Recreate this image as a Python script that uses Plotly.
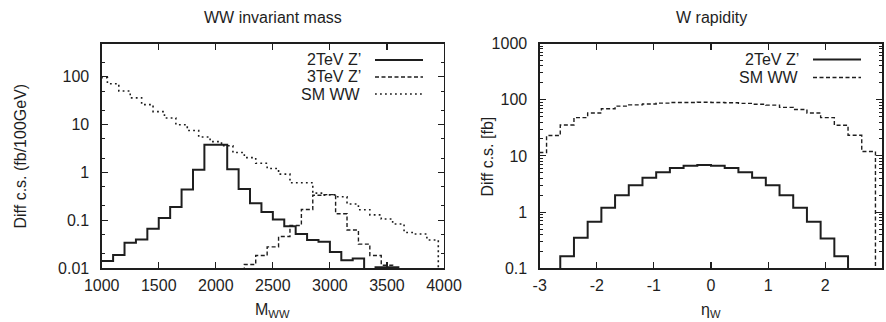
import plotly.graph_objects as go

# ---------------- data ----------------
FLOOR = 1e-4  # empty bin (below the visible log range)

# Left panel: WW invariant mass, bin centres [GeV] and diff. cross sections [fb/100GeV]
mww_2tev_centers = [1050, 1150, 1250, 1350, 1450, 1550, 1650, 1750, 1850, 1950,
                    2050, 2150, 2250, 2350, 2450, 2550, 2650, 2750, 2850, 2950,
                    3050, 3150, 3250, 3350, 3450, 3550, 3650]
mww_2tev_values = [0.0142, 0.019, 0.034, 0.040, 0.067, 0.112, 0.19, 0.44, 1.14, 3.8,
                   3.8, 1.17, 0.45, 0.228, 0.150, 0.104, 0.075, 0.052, 0.039, 0.036,
                   0.022, 0.0147, 0.016, FLOOR, 0.0105, 0.0105, FLOOR]

mww_3tev_centers = [2200, 2300, 2400, 2500, 2600, 2700, 2800, 2900, 3000, 3100,
                    3200, 3300, 3400, 3500, 3600]
mww_3tev_values = [FLOOR, 0.012, 0.0185, 0.028, 0.046, 0.078, 0.168, 0.335, 0.345, 0.137,
                   0.063, 0.032, 0.0185, 0.0116, FLOOR]

mww_sm_centers = [1000, 1100, 1200, 1300, 1400, 1500, 1600, 1700, 1800, 1900,
                  2000, 2100, 2200, 2300, 2400, 2500, 2600, 2700, 2800, 2900,
                  3000, 3100, 3200, 3300, 3400, 3500, 3600, 3700, 3800, 3900, 4000]
mww_sm_values = [95, 71, 50, 36, 26, 18.6, 13.7, 9.9, 7.5, 5.5,
                 4.4, 3.6, 2.6, 2.04, 1.55, 1.21, 0.92, 0.61, 0.61, 0.37,
                 0.34, 0.31, 0.22, 0.167, 0.13, 0.107, 0.084, 0.056, 0.052, 0.039, FLOOR]

# Right panel: W rapidity, bin centres and diff. cross sections [fb]
eta_centers = [-3.0, -2.76, -2.52, -2.28, -2.04, -1.80, -1.56, -1.32, -1.08, -0.84,
               -0.60, -0.36, -0.12, 0.12, 0.36, 0.60, 0.84, 1.08, 1.32, 1.56,
               1.80, 2.04, 2.28, 2.52, 2.76, 3.0]
eta_2tev_values = [FLOOR, FLOOR, 0.164, 0.35, 0.67, 1.2, 2.0, 3.0, 4.1, 5.1,
                   6.1, 6.7, 6.9, 6.7, 6.1, 5.1, 4.1, 3.0, 2.0, 1.2,
                   0.67, 0.34, 0.164, FLOOR, FLOOR, FLOOR]
eta_sm_values = [11.5, 23, 35.5, 48, 58, 69, 77, 81, 84, 87,
                 89, 89, 90, 89, 88, 86, 83, 80, 73, 67,
                 58, 48, 35, 23.3, 12, FLOOR]

mww_ticks = [1000, 1500, 2000, 2500, 3000, 3500, 4000]
mww_labels = ["1000", "1500", "2000", "2500", "3000", "3500", "4000"]
left_y_ticks = [0.01, 0.1, 1, 10, 100]
left_y_labels = ["0.01", "0.1", "1", "10", "100"]
eta_ticks = [-3, -2, -1, 0, 1, 2, 3]
eta_labels = ["-3", "-2", "-1", "0", "1", "2", "3"]
right_y_ticks = [0.1, 1, 10, 100, 1000]
right_y_labels = ["0.1", "1", "10", "100", "1000"]

# ---------------- helpers ----------------
def histeps(centers, values):
    half = (centers[1] - centers[0]) / 2.0
    edges = [centers[0] - half] + [(a + b) / 2.0 for a, b in zip(centers[:-1], centers[1:])] + [centers[-1] + half]
    return edges, list(values) + [values[-1]]

INK = "#1e1e1e"
FONT = "Liberation Sans, Arial, Helvetica, sans-serif"
FS = 16
W, H = 886, 322

solid = dict(color=INK, width=2.0)
dashed = dict(color=INK, width=1.4, dash="4px,2.5px")
dotted = dict(color=INK, width=1.6, dash="1.8px,3.2px")

fig = go.Figure()

def add_hist(centers, values, line, name, xa, ya):
    x, y = histeps(centers, values)
    fig.add_trace(go.Scatter(x=x, y=y, mode="lines", line_shape="hv", line=line,
                             name=name, showlegend=False, xaxis=xa, yaxis=ya,
                             hoverinfo="skip"))

add_hist(mww_sm_centers, mww_sm_values, dotted, "SM WW", "x", "y")
add_hist(mww_3tev_centers, mww_3tev_values, dashed, "3TeV Z'", "x", "y")
add_hist(mww_2tev_centers, mww_2tev_values, solid, "2TeV Z'", "x", "y")
add_hist(eta_centers, eta_sm_values, dashed, "SM WW", "x2", "y2")
add_hist(eta_centers, eta_2tev_values, solid, "2TeV Z'", "x2", "y2")

# plot-area geometry (pixels)
L1, R1 = 101.7, 444.0
L2, R2 = 539.7, 882.3
TOP, BOT = 43.5, 268.3
xd1 = [L1 / W, R1 / W]
xd2 = [L2 / W, R2 / W]
yd = [(H - BOT) / H, (H - TOP) / H]

common_x = dict(showline=True, linecolor=INK, linewidth=1.3, mirror="allticks",
                ticks="inside", ticklen=6, tickwidth=1.1, tickcolor=INK,
                showgrid=False, zeroline=False, automargin=False,
                tickfont=dict(family=FONT, size=FS, color=INK),
                ticklabelstandoff=2)
common_y = dict(type="log", showline=True, linecolor=INK, linewidth=1.3, mirror="allticks",
                ticks="inside", ticklen=6, tickwidth=1.1, tickcolor=INK,
                showgrid=False, zeroline=False, automargin=False,
                tickfont=dict(family=FONT, size=FS, color=INK),
                ticklabelstandoff=8)

fig.update_layout(
    width=W, height=H, margin=dict(l=0, r=0, t=0, b=0, autoexpand=False),
    paper_bgcolor="white", plot_bgcolor="white", showlegend=False,
    xaxis=dict(domain=xd1, range=[1000, 4000], tickvals=mww_ticks, ticktext=mww_labels,
               anchor="y", **common_x),
    yaxis=dict(domain=yd, range=[-2, 2.69], tickvals=left_y_ticks, ticktext=left_y_labels,
               anchor="x",
               minor=dict(ticks="inside", ticklen=3, tickwidth=1, tickcolor=INK, dtick="D2"),
               **common_y),
    xaxis2=dict(domain=xd2, range=[-3, 3], tickvals=eta_ticks, ticktext=eta_labels,
                anchor="y2", **common_x),
    yaxis2=dict(domain=yd, range=[-1, 3], tickvals=right_y_ticks, ticktext=right_y_labels,
                anchor="x2",
                minor=dict(ticks="inside", ticklen=3, tickwidth=1, tickcolor=INK, dtick="D1"),
                **common_y),
)

ann = []
def text(x, y, s, xanchor="center", yanchor="middle", angle=0, xref="paper", yref="paper"):
    ann.append(dict(x=x, y=y, xref=xref, yref=yref, text=s, showarrow=False,
                    xanchor=xanchor, yanchor=yanchor, textangle=angle,
                    font=dict(family=FONT, size=FS, color=INK)))

# titles
text((L1 + R1) / 2 / W, (H - 17) / H, "WW invariant mass")
text((L2 + R2) / 2 / W, (H - 17) / H, "W rapidity")
# axis titles
text((L1 + R1) / 2 / W, (H - 310) / H, "M<sub>WW</sub>")
text((L2 + R2) / 2 / W, (H - 310) / H, "η<sub>W</sub>")
text(20 / W, (H - 156.5) / H, "Diff c.s. (fb/100GeV)", angle=-90)
text(487 / W, (H - 156.5) / H, "Diff c.s. [fb]", angle=-90)

# legends (text right-aligned, sample line to the right, as in gnuplot)
shapes = []
def legend_row(xref, yref, y_px, label, line, text_end, s0, s1, left, right):
    span = right - left
    ty = (BOT - y_px) / (BOT - TOP)
    ann.append(dict(x=(text_end - left) / span, y=ty, xref=xref, yref=yref, text=label,
                    showarrow=False, xanchor="right", yanchor="middle",
                    font=dict(family=FONT, size=FS, color=INK)))
    shapes.append(dict(type="line", xref=xref, yref=yref,
                       x0=(s0 - left) / span, x1=(s1 - left) / span, y0=ty, y1=ty,
                       line=dict(color=line["color"], width=line["width"],
                                 dash=line.get("dash", "solid"))))

legend_row("x domain", "y domain", 60, "2TeV Z’", solid, 363, 375, 423, L1, R1)
legend_row("x domain", "y domain", 77, "3TeV Z’", dashed, 363, 375, 423, L1, R1)
legend_row("x domain", "y domain", 94, "SM WW", dotted, 363, 375, 423, L1, R1)
legend_row("x2 domain", "y2 domain", 59.5, "2TeV Z’", solid, 801, 813, 861, L2, R2)
legend_row("x2 domain", "y2 domain", 77.5, "SM WW", dashed, 801, 813, 861, L2, R2)

fig.update_layout(annotations=ann, shapes=shapes)
fig.write_html("out.html",
               config={"displayModeBar": False, "staticPlot": True},
               post_script="document.body.style.margin='0';document.body.style.padding='0';"
                           "document.body.style.overflow='hidden';")
